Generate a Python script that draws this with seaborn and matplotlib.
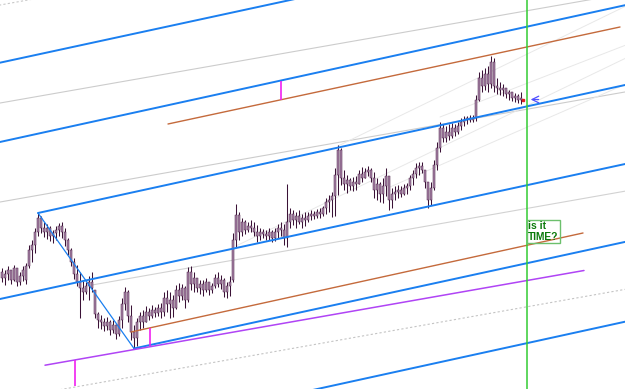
import numpy as np
import pandas as pd
import matplotlib
matplotlib.use("Agg")
import matplotlib.pyplot as plt
from matplotlib.patches import Rectangle
import seaborn as sns

# ---------------- price bars (one bar per index) ----------------
high = [132,130,134,130,135,132,128,134,137,155,160,172,187,184,178,176,174,170,174,177,
        178,172,162,152,142,135,128,120,118,124,128,110,88,85,82,83,80,80,76,84,
        102,113,110,95,75,82,88,90,94,92,95,93,96,97,108,110,108,105,115,117,
        116,114,133,134,128,122,120,120,122,118,117,126,128,125,122,118,124,167,196,188,
        182,180,178,180,178,175,172,171,170,172,170,172,176,178,176,216,192,190,188,190,
        186,188,188,190,189,191,192,194,202,205,208,232,255,252,230,225,222,223,224,230,
        233,232,234,232,228,222,218,222,232,224,212,214,215,214,216,217,225,230,237,238,
        238,230,218,218,240,258,278,276,274,276,277,276,278,282,284,284,285,285,305,328,
        330,332,334,344,342,322,318,316,312,310,308,307,306,308]
low = [118,115,120,116,119,114,115,119,116,132,138,147,164,167,163,161,159,157,160,164,
       162,154,145,134,121,114,82,100,106,100,108,82,72,71,69,70,65,67,61,64,
       72,90,78,60,52,54,70,72,78,80,82,83,84,82,84,88,82,83,91,98,
       100,92,98,110,108,108,106,104,108,105,107,112,113,111,103,102,104,118,153,160,
       164,166,168,168,164,158,160,162,160,160,158,159,162,164,155,153,172,175,172,176,
       172,174,178,180,181,182,182,184,186,188,183,184,205,215,210,207,210,209,210,216,
       218,222,224,218,202,200,198,197,204,190,192,200,202,203,205,206,210,215,222,225,
       227,212,192,195,210,230,248,258,258,260,262,264,266,270,274,276,278,278,279,299,
       308,310,308,312,308,306,305,304,302,300,299,298,297,296]
open_ = [128,122,126,130,120,132,118,124,120,134,150,155,168,182,172,168,172,164,167,170,
         174,168,160,150,138,126,118,112,108,114,118,110,86,80,78,74,78,70,75,66,
         80,96,108,84,68,62,78,84,78,88,84,90,87,92,88,102,96,100,92,110,
         104,112,100,128,116,122,112,116,110,118,110,114,122,116,120,108,114,120,160,185,
         168,178,170,174,172,168,164,168,166,164,168,162,168,172,170,162,178,186,180,184,
         178,182,180,184,186,184,188,186,192,198,200,204,225,250,222,216,220,214,218,216,
         226,222,228,230,222,210,216,206,214,224,200,206,208,210,206,212,214,222,226,232,
         234,230,218,200,212,235,252,272,262,268,264,272,268,274,278,280,282,280,282,300,
         322,314,326,316,338,314,312,310,312,306,308,302,304,300]
close = [122,126,130,120,132,118,124,130,134,150,155,168,182,172,168,172,164,167,170,174,
         168,160,150,138,126,118,112,108,114,118,112,86,80,78,74,78,70,75,66,80,
         96,108,84,68,62,78,84,78,88,84,90,87,92,88,102,96,100,92,110,104,
         112,100,128,116,122,112,116,110,118,110,114,122,116,120,108,114,118,160,185,168,
         178,170,174,172,168,164,168,166,164,168,162,168,172,170,162,178,186,180,184,178,
         182,180,184,186,184,188,186,192,198,200,204,225,250,222,216,220,214,218,216,226,
         222,228,230,222,210,216,206,214,224,200,206,208,210,206,212,214,222,226,232,234,
         230,218,200,212,235,252,272,262,268,264,272,268,274,278,280,282,280,282,300,322,
         314,326,316,338,314,312,310,312,306,308,302,304,300,302]

# ---------------- drawn studies (bar index, price) ----------------
line_names = ["chan_top", "chan_b", "chan_c", "chan_d", "chan_e", "chan_f", "swing",
              "grey1", "grey2", "grey3", "grey_top", "grey_low",
              "fan1", "fan2", "fan3", "fan4",
              "violet", "copper1", "copper2"]
line_x0 = [-1, -1, 12, -1, 44, 99, 12, -1, -1, 30, -1, 19.33, 78, 112, 129.33, 146, 14.33, 55.33, 43]
line_p0 = [337.1, 257.8, 187, 100.8, 51.5, 7.0, 187, 296.8, 197.8, 115, 394.8, 10.3, 154, 254, 213, 283, 34.8, 276, 68]
line_x1 = [208, 208, 208, 208, 208, 208, 44, 208, 208, 208, 30, 208, 208, 208, 208, 208, 194, 206, 193.67]
line_p1 = [472.5, 395.0, 315.2, 236.2, 158.3, 78.5, 51.5, 406.6, 308.2, 209, 411.5, 110.8, 342, 394, 316, 355, 129.5, 373, 167]

marker_x = [93, 49.33, 24.33]
marker_lo = [300.3, 54.5, 14]
marker_hi = [319.5, 72.2, 40.1]

time_bar = 175
note_text = "is it\nTIME?"
last_price = 300

# ---------------- styles ----------------
style = {
    "chan_top": ("#1a7ff0", 1.4, "-"), "chan_b": ("#1a7ff0", 1.4, "-"),
    "chan_c": ("#1a7ff0", 1.4, "-"), "chan_d": ("#1a7ff0", 1.4, "-"),
    "chan_e": ("#1a7ff0", 1.4, "-"), "chan_f": ("#1a7ff0", 1.4, "-"),
    "swing": ("#1a7ff0", 0.9, "-"),
    "grey1": ("#cccccc", 0.8, "-"), "grey2": ("#cccccc", 0.8, "-"),
    "grey3": ("#d2d2d2", 0.8, "-"), "grey_top": ("#c8c8c8", 0.8, (0, (2, 2))),
    "grey_low": ("#c4c4c4", 0.8, (0, (2, 2))),
    "fan1": ("#e8e8e8", 0.7, "-"), "fan2": ("#e8e8e8", 0.7, "-"),
    "fan3": ("#e8e8e8", 0.7, "-"), "fan4": ("#e8e8e8", 0.7, "-"),
    "violet": ("#b044f5", 1.1, "-"),
    "copper1": ("#c46a3c", 1.0, "-"), "copper2": ("#c46a3c", 1.0, "-"),
}

sns.set_theme(style="white")
plt.rcParams["font.family"] = ["Liberation Sans", "DejaVu Sans"]

fig = plt.figure(figsize=(6.25, 3.89), dpi=100)
ax = fig.add_axes([0, 0, 1, 1])
ax.set_facecolor("white")

# studies
for name, a, pa, b, pb in zip(line_names, line_x0, line_p0, line_x1, line_p1):
    col, lw, ls = style[name]
    z = 1 if name.startswith(("fan", "grey")) else 4
    sns.lineplot(x=[a, b], y=[pa, pb], color=col, linewidth=lw, linestyle=ls,
                 ax=ax, estimator=None, sort=False, legend=False, zorder=z)

# candles
idx = np.arange(len(high))
ax.vlines(idx, low, high, color="#3a1236", linewidth=0.75, zorder=2)
o = np.array(open_); c = np.array(close)
bottoms = np.minimum(o, c)
heights = np.maximum(np.abs(c - o), 0.8)
ax.bar(idx, heights, bottom=bottoms, width=0.9, color="#a985a9",
       edgecolor="#4a2046", linewidth=0.35, zorder=3)

# vertical markers
ax.vlines(marker_x, marker_lo, marker_hi, color="#f020f0", linewidth=1.2, zorder=5)

# time line
ax.axvline(time_bar, color="#33cc33", linewidth=1.1, zorder=5)

# note box
ax.add_patch(Rectangle((time_bar + 0.1, 157.5), 10.9, 22.5, fill=False,
                       edgecolor="#6cc06c", linewidth=1.0, zorder=6))
ax.text(time_bar + 0.45, 179.3, note_text, color="#0a7a0a", fontsize=7.4,
        fontweight="bold", va="top", ha="left", linespacing=1.2, zorder=7)

# current-price arrow and mark
ax.annotate("", xy=(time_bar + 0.3, last_price + 0.5), xytext=(time_bar + 4.8, last_price + 0.5),
            arrowprops=dict(arrowstyle="->", color="#5050ff", lw=0.9), zorder=7)
ax.plot([len(high) - 1 + 0.6], [last_price], marker="s", markersize=2.0,
        color="#e02020", zorder=6)

ax.set_xlim(-0.667, 207.667)
ax.set_ylim(11, 400)
ax.axis("off")
fig.savefig("out.png", dpi=100, facecolor="white")
